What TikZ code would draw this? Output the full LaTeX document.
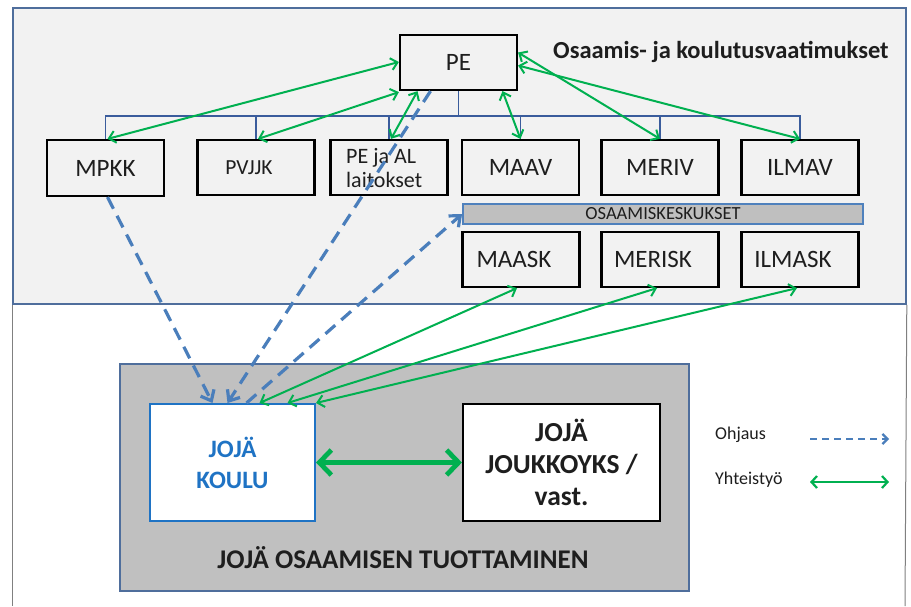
\documentclass[tikz,border=0pt]{standalone}
\usepackage{fontspec}
\setmainfont{Carlito}
\usetikzlibrary{arrows.meta,calc}
\definecolor{panelbg}{HTML}{F2F2F2}
\definecolor{framec}{HTML}{4F6E9C}
\definecolor{treec}{HTML}{3A5C9C}
\definecolor{grn}{HTML}{00B050}
\definecolor{dashc}{HTML}{4A7EBB}
\definecolor{barfill}{HTML}{BFBFBF}
\definecolor{barline}{HTML}{4F81BD}
\definecolor{koulublue}{HTML}{1F73C4}
\definecolor{grayfill}{HTML}{C0C0C0}
\definecolor{txt}{HTML}{1E1E1E}
\begin{document}
\begin{tikzpicture}[x=1pt,y=-1pt,
  box/.style={draw=black, line width=2.2pt, fill=panelbg, minimum width=117pt, minimum height=55pt, inner sep=0pt, text=txt, font=\fontsize{25}{30}\selectfont},
  shiftl/.style={execute at begin node={\hspace*{-14pt}}},
  tree/.style={treec, line width=1.6pt},
  gr/.style={grn, line width=2pt, {Straight Barb[length=6.5pt,width=12pt]}-{Straight Barb[length=6.5pt,width=12pt]}},
  grthick/.style={grn, line width=4.8pt, {Straight Barb[length=12pt,width=25pt]}-{Straight Barb[length=12pt,width=25pt]}},
  dsh/.style={dashc, line width=3.2pt, dash pattern=on 13pt off 8pt, -{Straight Barb[length=9pt,width=15pt]}},
  legdsh/.style={dashc, line width=2.2pt, dash pattern=on 7pt off 5pt, -{Straight Barb[length=5pt,width=10pt]}},
  leggr/.style={grn, line width=2.2pt, {Straight Barb[length=5.5pt,width=12pt]}-{Straight Barb[length=5.5pt,width=12pt]}},
  legtxt/.style={anchor=west, text=txt, inner sep=0pt, font=\fontsize{18}{21}\selectfont}
]
\useasboundingbox (0,0) rectangle (911,606);
\fill[white] (0,0) rectangle (911,606);

% frames
\node[draw=framec, fill=panelbg, line width=1.8pt, minimum width=893pt, minimum height=296pt, anchor=north west, inner sep=0pt] (panel) at (12,7) {};
\coordinate (bl) at (12,606);
\coordinate (br) at (905,606);
\draw[gray, line width=1pt] (panel.south west) -- (bl);
\draw[gray, line width=1pt] (panel.south east) -- (br);

\node[anchor=west, inner sep=0pt, text=txt, font=\bfseries\fontsize{24.5}{28}\selectfont] (title) at (553,52) {Osaamis- ja koulutusvaatimukset};

% top row
\node[box, minimum height=55pt] (PE) at (458.5,62.5) {PE};
\node[box, minimum height=56pt] (MPKK) at (105.5,168) {MPKK};
\node[box, shiftl, font=\fontsize{21.5}{25}\selectfont] (PVJJK) at (256,167.5) {PVJJK};
\node[box] (PEAL) at (389,167.5) {};
\node[anchor=north west, align=left, inner sep=0pt, text=txt, font=\fontsize{22}{24.5}\selectfont] (PEALtxt) at (346,148) {PE ja AL\\laitokset};
\node[box] (MAAV) at (520.5,167.5) {MAAV};
\node[box] (MERIV) at (660,167.5) {MERIV};
\node[box] (ILMAV) at (800,167.5) {ILMAV};

% tree
\draw[tree] (PE.south) -- ++(0,25) coordinate (tj);
\draw[tree] (MPKK.north) -- (MPKK.north |- tj) -- (ILMAV.north |- tj) -- (ILMAV.north);
\foreach \n in {PVJJK,PEAL,MAAV,MERIV} \draw[tree] (\n.north) -- (\n.north |- tj);

% osaamiskeskukset
\node[draw=barline, fill=barfill, line width=1.8pt, minimum width=400pt, minimum height=20pt, inner sep=0pt, text=txt, font=\fontsize{18.5}{20}\selectfont] (bar) at (663,214) {OSAAMISKESKUKSET};
\node[box, shiftl] (MAASK) at (521,259.5) {MAASK};
\node[box, shiftl] (MERISK) at (660,259.5) {MERISK};
\node[box, shiftl] (ILMASK) at (800,259.5) {ILMASK};

% bottom
\node[draw=framec, fill=grayfill, line width=1.5pt, minimum width=569pt, minimum height=227pt, anchor=north west, inner sep=0pt] (bottom) at (119,363) {};
\node[draw=koulublue, fill=white, line width=2pt, minimum width=165pt, minimum height=117pt, inner sep=0pt, align=center, text=koulublue, font=\bfseries\fontsize{25}{31}\selectfont] (KOULU) at (232.5,462.5) {JOJÄ\\KOULU};
\node[draw=black, fill=white, line width=2.2pt, minimum width=197pt, minimum height=117pt, inner sep=0pt, align=center, text=txt, font=\bfseries\fontsize{27.5}{32}\selectfont] (JOUK) at (561.5,462.5) {JOJÄ\\JOUKKOYKS /\\vast.};
\node[inner sep=0pt, text=txt, font=\bfseries\fontsize{27}{30}\selectfont] (tuot) at (403,558) {JOJÄ OSAAMISEN TUOTTAMINEN};

% green thin double arrows (top)
\draw[gr] ([yshift=0.5pt]PE.west) -- ([xshift=2pt]MPKK.north);
\draw[gr] ([yshift=-1pt]PE.south west) -- ([xshift=2pt]PVJJK.north);
\draw[gr] ([xshift=-41pt]PE.south) -- ([xshift=2pt]PEAL.north);
\draw[gr] ([xshift=44pt]PE.south) -- (MAAV.north);
\draw[gr] ([yshift=10pt]PE.east) -- (MERIV.north);
\draw[gr] ([yshift=-3pt]PE.east) -- (ILMAV.north);

% green to osaamiskeskukset
\draw[gr] ([xshift=27pt]KOULU.north) -- ([xshift=-4pt]MAASK.south);
\draw[gr] ([xshift=55pt]KOULU.north) -- ([xshift=-3pt]MERISK.south);
\draw[gr] (KOULU.north east) -- ([xshift=-3pt]ILMASK.south);

% blue dashed ohjaus
\draw[dsh] ([xshift=2pt]MPKK.south) -- ([xshift=-20pt]KOULU.north);
\draw[dsh] ([xshift=-28pt]PE.south) -- ([xshift=-5pt]KOULU.north);
\draw[dsh] ([xshift=14pt]KOULU.north) -- (bar.west);

% thick double arrow
\draw[grthick] (KOULU.east) -- (JOUK.west |- KOULU.east);

% legend
\node[legtxt] (ohj) at (715,435) {Ohjaus};
\node[legtxt] (yht) at (715,480) {Yhteistyö};
\coordinate (l1a) at (810,439);
\coordinate (l1b) at (889,439);
\coordinate (l2a) at (810,482);
\coordinate (l2b) at (889,482);
\draw[legdsh] (l1a) -- (l1b);
\draw[leggr] (l2a) -- (l2b);
\end{tikzpicture}
\end{document}
